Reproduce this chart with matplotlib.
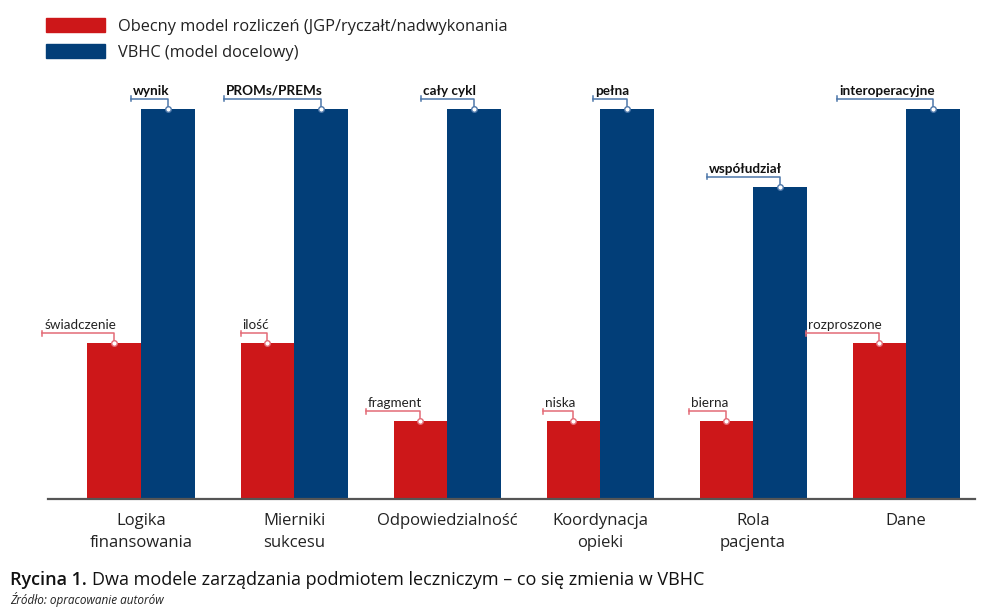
import matplotlib
matplotlib.use("Agg")
import matplotlib.pyplot as plt
import matplotlib.transforms as mtransforms
from matplotlib.patches import Patch
import numpy as np

plt.rcParams['font.family'] = ['Open Sans', 'DejaVu Sans']

categories = ["Logika\nfinansowania", "Mierniki\nsukcesu", "Odpowiedzialność",
              "Koordynacja\nopieki", "Rola\npacjenta", "Dane"]
current = [40, 40, 20, 20, 20, 40]
vbhc = [100, 100, 100, 100, 80, 100]
current_labels = ["świadczenie", "ilość", "fragment", "niska", "bierna", "rozproszone"]
vbhc_labels = ["wynik", "PROMs/PREMs", "cały cykl", "pełna", "współudział", "interoperacyjne"]

red = "#cd1719"
blue = "#023e78"
red_line = "#e36b76"
blue_line = "#4d77aa"

fig = plt.figure(figsize=(10, 6.15), dpi=100)
ax = fig.add_axes([0.048, 0.1886, 0.927, 0.6976])

x = np.arange(len(categories))
w = 0.35
ax.bar(x - w / 2, current, w, color=red, zorder=2)
ax.bar(x + w / 2, vbhc, w, color=blue, zorder=2)

ax.set_xlim(-0.608, 5.45)
ax.set_ylim(0, 110)
ax.set_yticks([])
for s in ["top", "right", "left"]:
    ax.spines[s].set_visible(False)
ax.spines["bottom"].set_color("#555555")
ax.spines["bottom"].set_linewidth(1.6)
ax.set_xticks(x)
ax.set_xticklabels(categories, fontsize=12, color="#222222", linespacing=1.5)
ax.tick_params(axis="x", length=0, pad=10)

# callout labels above bars
texts = []
for i in range(len(categories)):
    for val, lab, xc, lc, bold in [(current[i], current_labels[i], x[i] - w / 2, red_line, False),
                                   (vbhc[i], vbhc_labels[i], x[i] + w / 2, blue_line, True)]:
        tr = mtransforms.offset_copy(ax.transData, fig=fig, x=2, y=14, units="dots")
        t = ax.text(xc, val, lab, transform=tr, ha="right", va="baseline",
                    fontsize=9.7, color="#222222" if not bold else "#111111",
                    family=["Lato", "DejaVu Sans"],
                    fontweight="bold" if bold else "normal", zorder=5)
        texts.append((t, xc, val, lc))

fig.canvas.draw()
r = fig.canvas.get_renderer()
inv = ax.transData.inverted()
px = ax.transData.transform((0, 1))[1] - ax.transData.transform((0, 0))[1]
for t, xc, val, lc in texts:
    bb = t.get_window_extent(renderer=r)
    x0 = inv.transform((bb.x0 - 2, 0))[0]
    yl = val + 10 / px
    ax.plot([x0, xc, xc], [yl, yl, val], color=lc, lw=1.1, zorder=3, clip_on=False)
    ax.plot([x0, x0], [yl - 2.5 / px, yl + 2.5 / px], color=lc, lw=1.1, zorder=3, clip_on=False)
    ax.plot([xc], [val], marker="o", ms=4, mfc="white", mec=lc, mew=1, zorder=4, clip_on=False)

# legend
handles = [Patch(color=red, label="Obecny model rozliczeń (JGP/ryczałt/nadwykonania"),
           Patch(color=blue, label="VBHC (model docelowy)")]
fig.legend(handles=handles, loc="upper left", bbox_to_anchor=(0.031, 0.994), frameon=False,
           fontsize=11.8, handlelength=3.6, handleheight=0.85, handletextpad=0.8,
           labelspacing=0.6, labelcolor="#222222")

# caption
t1 = fig.text(0.01, 0.048, "Rycina 1.", fontsize=13, fontweight="semibold", color="#111111", va="baseline")
fig.canvas.draw()
bb = t1.get_window_extent(renderer=fig.canvas.get_renderer())
fig.text(bb.x1 / 1000 + 0.005, 0.048, "Dwa modele zarządzania podmiotem leczniczym – co się zmienia w VBHC",
         fontsize=13, color="#111111", va="baseline")
fig.text(0.01, 0.018, "Źródło: opracowanie autorów", fontsize=8.5, style="italic",
         color="#222222", va="baseline")

fig.savefig("out.png", dpi=100)
